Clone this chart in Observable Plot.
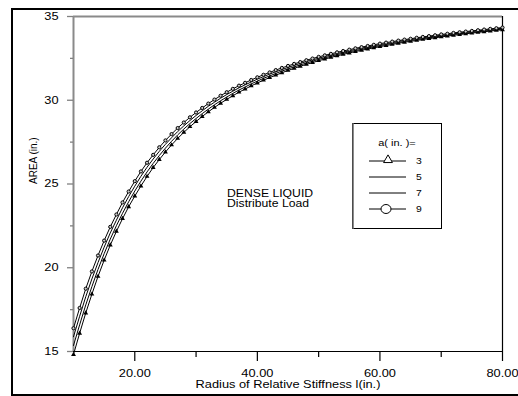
<!DOCTYPE html>
<html>
<head>
<meta charset="utf-8">
<script src="https://cdn.jsdelivr.net/npm/d3@7"></script>
<script src="https://cdn.jsdelivr.net/npm/@observablehq/plot@0.6"></script>
<style>
  html, body { margin: 0; padding: 0; background: #fff; overflow: hidden; width: 518px; height: 396px; }
  #chart { position: absolute; left: 0; top: 0; width: 518px; height: 396px; overflow: hidden; }
  #chart svg { display: block; }
  #legend { position: absolute; left: 352px; top: 123px; width: 90px; height: 106px; overflow: hidden; }
  #legend svg { display: block; }
</style>
</head>
<body>
  <div id="chart"></div>
  <div id="legend"></div>
<script>
// ---- data ----
const xValues = [10,11,12,13,14,15,16,17,18,19,20,21,22,23,24,25,26,27,28,29,30,31,32,33,34,35,36,37,38,39,40,41,42,43,44,45,46,47,48,49,50,51,52,53,54,55,56,57,58,59,60,61,62,63,64,65,66,67,68,69,70,71,72,73,74,75,76,77,78,79,80];
const area3 = [14.82,16.09,17.3,18.42,19.48,20.45,21.35,22.17,22.93,23.64,24.28,24.88,25.45,25.98,26.46,26.91,27.33,27.72,28.08,28.42,28.73,29.03,29.31,29.57,29.82,30.05,30.27,30.48,30.67,30.86,31.03,31.2,31.35,31.5,31.64,31.78,31.9,32.03,32.14,32.25,32.36,32.46,32.56,32.65,32.74,32.82,32.91,32.98,33.06,33.13,33.2,33.27,33.33,33.4,33.46,33.52,33.57,33.63,33.68,33.73,33.78,33.83,33.88,33.92,33.97,34.01,34.05,34.09,34.13,34.17,34.21];
const area5 = [15.36,16.59,17.78,18.87,19.9,20.84,21.71,22.51,23.25,23.94,24.58,25.17,25.72,26.23,26.7,27.14,27.55,27.93,28.28,28.61,28.91,29.2,29.47,29.73,29.97,30.19,30.41,30.61,30.79,30.98,31.14,31.31,31.45,31.6,31.74,31.87,31.99,32.11,32.22,32.33,32.44,32.53,32.63,32.72,32.81,32.89,32.97,33.04,33.12,33.19,33.26,33.33,33.39,33.45,33.51,33.57,33.62,33.68,33.73,33.78,33.83,33.88,33.93,33.97,34.01,34.05,34.09,34.13,34.17,34.21,34.25];
const area7 = [15.88,17.1,18.27,19.33,20.31,21.23,22.08,22.84,23.58,24.25,24.87,25.46,26.0,26.49,26.95,27.37,27.76,28.13,28.47,28.79,29.09,29.37,29.64,29.88,30.12,30.34,30.54,30.74,30.92,31.09,31.26,31.41,31.56,31.7,31.83,31.96,32.08,32.2,32.31,32.41,32.51,32.61,32.7,32.79,32.87,32.95,33.04,33.11,33.18,33.25,33.32,33.38,33.44,33.51,33.57,33.62,33.68,33.73,33.78,33.83,33.88,33.92,33.97,34.01,34.06,34.1,34.14,34.18,34.22,34.26,34.3];
const area9 = [16.39,17.6,18.75,19.78,20.73,21.62,22.44,23.18,23.9,24.55,25.17,25.75,26.27,26.74,27.19,27.6,27.98,28.34,28.67,28.98,29.27,29.54,29.8,30.04,30.27,30.48,30.68,30.87,31.04,31.21,31.37,31.52,31.66,31.8,31.93,32.05,32.17,32.28,32.39,32.49,32.59,32.68,32.77,32.86,32.94,33.02,33.1,33.17,33.24,33.31,33.38,33.44,33.5,33.56,33.62,33.67,33.73,33.78,33.83,33.88,33.93,33.97,34.02,34.06,34.1,34.14,34.18,34.22,34.26,34.3,34.34];
const seriesLabels = ["3", "5", "7", "9"];
const seriesMarkers = ["triangle", "none", "none", "circle"];
const xMajorTicks = [20, 40, 60, 80];
const xMinorTicks = [30, 50, 70];
const yMajorTicks = [15, 20, 25, 30, 35];
const yMinorTicks = [17.5, 22.5, 27.5, 32.5];
const xTitle = "Radius of Relative Stiffness l(in.)";
const yTitle = "AREA (in.)";
const legendTitle = "a( in. )=";
const noteText = "DENSE LIQUID\nDistribute Load";

// ---- build table ----
const seriesValues = [area3, area5, area7, area9];
const rows = seriesLabels.flatMap((a, k) =>
  xValues.map((x, i) => ({a, marker: seriesMarkers[k], x, y: seriesValues[k][i]})));

const FONT = "'Liberation Sans', Arial, Helvetica, sans-serif";
const STRETCH = 1.22;

const chart = Plot.plot({
  width: 518,
  height: 396,
  marginLeft: 73,
  marginRight: 16,
  marginTop: 16,
  marginBottom: 45,
  style: {fontFamily: FONT, fontSize: "10.5px", background: "transparent", color: "#000", overflow: "hidden"},
  x: {domain: [10, 80]},
  y: {domain: [15, 35]},
  marks: [
    Plot.ruleY([35], {stroke: "#8a8a8a", strokeWidth: 2}),
    Plot.ruleX([10], {stroke: "#8a8a8a", strokeWidth: 2}),
    Plot.ruleY([15], {stroke: "#000", strokeWidth: 1.2}),
    Plot.ruleX([80], {stroke: "#000", strokeWidth: 1.2}),
    Plot.axisY(yMajorTicks, {tickSize: 6, tickPadding: 9, stroke: "#808080", strokeWidth: 1.3, label: null, fill: "#000"}),
    Plot.axisY(yMinorTicks, {tickSize: 3, tickPadding: 0, stroke: "#808080", strokeWidth: 1.3, label: null, tickFormat: () => ""}),
    Plot.axisX(xMajorTicks, {tickSize: 10, tickPadding: 8, stroke: "#000", strokeWidth: 1.2, label: null, fill: "#000", tickFormat: d3.format(".2f")}),
    Plot.axisX(xMinorTicks, {tickSize: 6, tickPadding: 0, stroke: "#000", strokeWidth: 1.2, label: null, tickFormat: () => ""}),
    Plot.line(rows, {x: "x", y: "y", z: "a", stroke: "#000", strokeWidth: 1}),
    Plot.dot(rows.filter(d => d.marker === "triangle"), {x: "x", y: "y", symbol: "triangle", r: 1.8, fill: "#000", stroke: "none"}),
    Plot.dot(rows.filter(d => d.marker === "circle"), {x: "x", y: "y", symbol: "circle", r: 1.6, fill: "#ccc", stroke: "#000", strokeWidth: 1}),
    Plot.text([yTitle], {text: d => d, frameAnchor: "left", rotate: -90, dx: -40, fontSize: 10, fill: "#000", className: "ytitle"}),
    Plot.text([xTitle], {text: d => d, frameAnchor: "bottom", dy: 36, fontSize: 10.5, fill: "#000"}),
    Plot.text([noteText], {text: d => d, x: () => 35.05, y: () => 24.09, textAnchor: "start", lineHeight: 1, fontSize: 10, fill: "#000"})
  ]
});
// outer page frame (decoration), drawn behind everything and clipped by the SVG edges
d3.select(chart).insert("rect", ":first-child")
  .attr("x", 12).attr("y", 9).attr("width", 620).attr("height", 386)
  .attr("fill", "none").attr("stroke", "#000").attr("stroke-width", 2);
document.getElementById("chart").appendChild(chart);

// ---- legend ----
const lw = 90, lh = 106;
const lsvg = d3.select("#legend").append("svg").attr("width", lw).attr("height", lh)
  .style("font-family", FONT).style("overflow", "hidden");
lsvg.append("rect").attr("x", 0.5).attr("y", 0.5).attr("width", lw - 1).attr("height", lh - 1)
  .attr("fill", "#fff").attr("stroke", "#000").attr("stroke-width", 1);
lsvg.append("line").attr("x1", 1).attr("x2", 1).attr("y1", 0).attr("y2", lh).attr("stroke", "#666").attr("stroke-width", 1.5);
lsvg.append("text").attr("x", 45).attr("y", 20).attr("text-anchor", "middle").attr("dy", "0.32em")
  .attr("font-size", 9).text(legendTitle);
seriesLabels.forEach((lab, k) => {
  const y = 38 + k * 16;
  const g = lsvg.append("g");
  g.append("line").attr("x1", 17).attr("x2", 54).attr("y1", y).attr("y2", y).attr("stroke", "#000").attr("stroke-width", 1);
  if (seriesMarkers[k] === "triangle") {
    g.append("path").attr("d", d3.symbol(d3.symbolTriangle, 34)()).attr("transform", `translate(36,${y - 1})`)
      .attr("fill", "#fff").attr("stroke", "#000").attr("stroke-width", 1);
  } else if (seriesMarkers[k] === "circle") {
    g.append("ellipse").attr("cx", 34).attr("cy", y).attr("rx", 5).attr("ry", 4.5)
      .attr("fill", "#fff").attr("stroke", "#000").attr("stroke-width", 1);
  }
  g.append("text").attr("x", 64).attr("y", y).attr("dy", "0.32em").attr("font-size", 8.5).text(lab);
});

// ---- horizontal stretch of (unrotated) text to match the reference glyph widths ----
function stretch(root) {
  root.querySelectorAll("text").forEach(t => {
    if (t.closest(".ytitle")) return;
    let rotated = false;
    for (let el = t; el && el !== root; el = el.parentNode) {
      const tr = el.getAttribute && el.getAttribute("transform");
      if (tr && tr.includes("rotate")) { rotated = true; break; }
    }
    if (rotated) return;
    const spans = t.querySelectorAll("tspan");
    const targets = spans.length ? Array.from(spans) : [t];
    targets.forEach(el => {
      const w = el.getComputedTextLength();
      if (w > 0) {
        el.setAttribute("textLength", (w * STRETCH).toFixed(2));
        el.setAttribute("lengthAdjust", "spacingAndGlyphs");
      }
    });
  });
}
stretch(chart);
stretch(document.querySelector("#legend svg"));
</script>
</body>
</html>
